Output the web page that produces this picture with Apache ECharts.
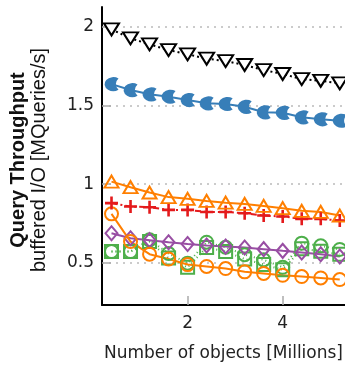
<!DOCTYPE html>
<html>
<head>
<meta charset="utf-8">
<script src="https://cdn.jsdelivr.net/npm/echarts@6/dist/echarts.min.js"></script>
<style>html,body{margin:0;padding:0;background:#fff;}#c{width:345px;height:366px;}</style>
</head>
<body>
<div id="c"></div>
<script>
const xValues = [0.4, 0.8, 1.2, 1.6, 2.0, 2.4, 2.8, 3.2, 3.6, 4.0, 4.4, 4.8, 5.2];
const blackTriangles = [1.982, 1.925, 1.887, 1.851, 1.824, 1.796, 1.781, 1.756, 1.724, 1.699, 1.667, 1.656, 1.640];
const blueCircles = [1.635, 1.597, 1.570, 1.555, 1.534, 1.513, 1.509, 1.491, 1.456, 1.453, 1.424, 1.412, 1.403];
const orangeTriangles = [1.016, 0.981, 0.947, 0.918, 0.907, 0.894, 0.883, 0.875, 0.862, 0.848, 0.831, 0.824, 0.801];
const redPlus = [0.880, 0.858, 0.854, 0.837, 0.837, 0.824, 0.824, 0.816, 0.801, 0.795, 0.780, 0.780, 0.769];
const orangeCircles = [0.812, 0.636, 0.556, 0.525, 0.490, 0.478, 0.465, 0.444, 0.434, 0.422, 0.414, 0.405, 0.395];
const purpleDiamonds = [0.689, 0.657, 0.645, 0.632, 0.621, 0.611, 0.604, 0.598, 0.588, 0.577, 0.567, 0.556, 0.541];
const greenCircles = [0.573, 0.573, 0.647, 0.560, 0.499, 0.632, 0.600, 0.553, 0.520, 0.473, 0.626, 0.609, 0.586];
const greenSquares = [0.573, 0.573, 0.636, 0.531, 0.473, 0.598, 0.573, 0.525, 0.491, 0.457, 0.590, 0.575, 0.555];
const yTicks = [0.5, 1, 1.5, 2];
const xTicks = [2, 4];
const yTitle = 'Query Throughput';
const ySubtitle = 'buffered I/O [MQueries/s]';
const xTitle = 'Number of objects [Millions]';

const pairs = ys => xValues.map((x, i) => [x, ys[i]]);
const FONT = 'Liberation Sans, Arial, sans-serif';
const HFONT = 'DejaVu Sans, sans-serif';

function mk(name, data, color, symbol, size, lineType, opts) {
  return Object.assign({
    name, type: 'line', data: pairs(data), symbol, symbolSize: size,
    lineStyle: { color, width: 2, type: lineType },
    itemStyle: { color: 'transparent', borderColor: color, borderWidth: 2 },
    emphasis: { disabled: true }, animation: false, z: 3
  }, opts || {});
}

const chart = echarts.init(document.getElementById('c'), null, { renderer: 'canvas' });
chart.setOption({
  animation: false,
  grid: { left: 102, top: 7, right: 0, bottom: 61, containLabel: false, outerBoundsMode: 'none' },
  xAxis: {
    type: 'value', min: 0.2, max: 5.31,
    axisLine: { show: true, lineStyle: { color: '#000', width: 2 } },
    axisTick: { show: true, inside: true, length: 9, customValues: xTicks, lineStyle: { color: '#aaa', width: 1.5 } },
    axisLabel: { customValues: xTicks, color: '#222', fontSize: 17, fontFamily: HFONT, margin: 10 },
    splitLine: { show: false },
    name: xTitle, nameLocation: 'middle', nameGap: 40,
    nameTextStyle: { color: '#222', fontSize: 17, fontFamily: HFONT }
  },
  yAxis: {
    type: 'value', min: 0.2336, max: 2.124,
    axisLine: { show: true, lineStyle: { color: '#000', width: 2 } },
    axisTick: { show: true, inside: true, length: 9, customValues: yTicks, lineStyle: { color: '#aaa', width: 1.5 } },
    axisLabel: { customValues: yTicks, color: '#222', fontSize: 17, fontFamily: HFONT, margin: 8 },
    splitLine: { show: true, lineStyle: { color: '#bbb', width: 1.5, type: [2, 5] } }
  },
  graphic: [
    { type: 'text', x: 18, y: 160, rotation: Math.PI / 2,
      style: { text: yTitle, fill: '#111', font: 'bold 20px ' + FONT, align: 'center', verticalAlign: 'middle' } },
    { type: 'text', x: 39, y: 160, rotation: Math.PI / 2,
      style: { text: ySubtitle, fill: '#111', font: '20px ' + FONT, align: 'center', verticalAlign: 'middle' } }
  ],
  series: [
    mk('greenSquares', greenSquares, '#4daf4a', 'rect', 13, [1, 3]),
    mk('greenCircles', greenCircles, '#4daf4a', 'circle', 13, [1, 3]),
    mk('purpleDiamonds', purpleDiamonds, '#984ea3', 'diamond', [12, 14], 'solid'),
    mk('orangeCircles', orangeCircles, '#ff7f00', 'circle', 13, 'solid'),
    mk('redPlus', redPlus, '#e41a1c', 'path://M4,0h2v4h4v2h-4v4h-2v-4h-4v-2h4z', 13, [6, 3, 2, 3],
       { itemStyle: { color: '#e41a1c', borderWidth: 0 } }),
    mk('orangeTriangles', orangeTriangles, '#ff7f00', 'triangle', [14, 12], 'solid'),
    mk('blueCircles', blueCircles, '#377eb8', 'path://M16,2 A10,10 0 1,0 16,18 A12,12 0 0,1 16,2 Z', 14, 'solid',
       { itemStyle: { color: '#377eb8', borderWidth: 0 } }),
    mk('blackTriangles', blackTriangles, '#000', 'triangle', [15, 12], [2, 3],
       { symbolRotate: 180, itemStyle: { color: '#fff', borderColor: '#000', borderWidth: 2 } })
  ]
});
</script>
</body>
</html>
